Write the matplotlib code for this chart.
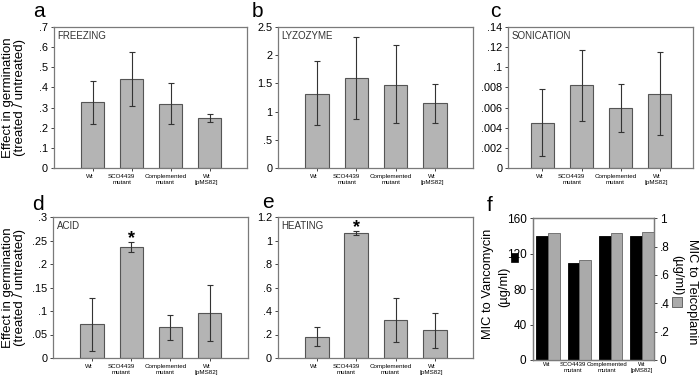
import numpy as np
import matplotlib
matplotlib.use("Agg")
import matplotlib.pyplot as plt
from matplotlib.patches import Rectangle
from matplotlib.transforms import blended_transform_factory

plt.rcParams['font.family'] = ['Liberation Sans', 'DejaVu Sans']

strains = ["Wt", "SCO4439\nmutant", "Complemented\nmutant", "Wt\n[pMS82]"]

# germination effect (bar value, lower and upper error bar ends)
freezing = [0.327, 0.441, 0.320, 0.247]
freezing_lo = [0.219, 0.308, 0.220, 0.227]
freezing_hi = [0.434, 0.575, 0.421, 0.267]

lyzozyme = [1.32, 1.59, 1.48, 1.15]
lyzozyme_lo = [0.76, 0.86, 0.79, 0.80]
lyzozyme_hi = [1.89, 2.32, 2.18, 1.49]

sonication = [0.0445, 0.082, 0.060, 0.0737]
sonication_lo = [0.0116, 0.0464, 0.036, 0.0325]
sonication_hi = [0.078, 0.1168, 0.0836, 0.1148]

acid = [0.0714, 0.236, 0.065, 0.0964]
acid_lo = [0.0143, 0.226, 0.038, 0.0364]
acid_hi = [0.127, 0.247, 0.0914, 0.156]

heating = [0.182, 1.065, 0.322, 0.236]
heating_lo = [0.105, 1.046, 0.14, 0.088]
heating_hi = [0.265, 1.085, 0.507, 0.379]

vancomycin = [140, 110, 140, 140]
teicoplanin = [0.894, 0.706, 0.894, 0.9]

W, H = 700, 383
fig = plt.figure(figsize=(7, 3.83), dpi=100)

def px_axes(l, t, r, b):
    return fig.add_axes([l / W, 1 - b / H, (r - l) / W, (b - t) / H])

frame_col = "#7a7a7a"
bar_col = "#b4b4b4"
edge_col = "#555555"
x = np.arange(4)
lab_shift = [-0.08, -0.25, -0.13, -0.08]

def style(ax):
    for s in ax.spines.values():
        s.set_color(frame_col)
        s.set_linewidth(0.9)
    ax.tick_params(axis="y", direction="out", length=2.5, width=0.7, pad=1.5,
                   labelsize=7.8, color="#444444")
    ax.tick_params(axis="x", direction="out", length=2.5, width=0.7, color="#444444",
                   labelbottom=False)

def germ_panel(ax, vals, lo, hi, ylim, ticks, ticklabels, title, xlim=(-1.0, 3.97)):
    vals = np.array(vals)
    yerr = [vals - np.array(lo), np.array(hi) - vals]
    ax.bar(x, vals, width=0.6, color=bar_col, edgecolor=edge_col, linewidth=0.8,
           yerr=yerr, error_kw=dict(ecolor="#333333", elinewidth=0.8, capsize=2, capthick=0.8))
    ax.set_xlim(*xlim)
    ax.set_ylim(*ylim)
    ax.set_yticks(ticks)
    ax.set_yticklabels(ticklabels)
    ax.set_xticks(x)
    style(ax)
    ax.text(0.018, 0.935, title, transform=ax.transAxes, fontsize=7, color="#333333",
            ha="left", va="center")
    tr = blended_transform_factory(ax.transData, ax.transAxes)
    for i, lab in enumerate(strains):
        ax.text(x[i] + lab_shift[i], -0.045, lab, transform=tr, fontsize=4.5,
                ha="center", va="top", linespacing=1.25)

ax_a = px_axes(53.5, 27, 247.5, 168)
germ_panel(ax_a, freezing, freezing_lo, freezing_hi, (0, 0.7),
           np.arange(0, 0.71, 0.1), ["0", ".1", ".2", ".3", ".4", ".5", ".6", ".7"], "FREEZING")

ax_b = px_axes(278, 27, 473, 168)
germ_panel(ax_b, lyzozyme, lyzozyme_lo, lyzozyme_hi, (0, 2.5),
           np.arange(0, 2.51, 0.5), ["0", ".5", "1", "1.5", "2", "2.5"], "LYZOZYME")

ax_c = px_axes(508, 27, 693, 168)
germ_panel(ax_c, sonication, sonication_lo, sonication_hi, (0, 0.14),
           np.arange(0, 0.141, 0.02), ["0", ".002", ".004", ".006", ".008", ".1", ".12", ".14"],
           "SONICATION", xlim=(-0.88, 3.85))

ax_d = px_axes(53, 217, 247.5, 358)
germ_panel(ax_d, acid, acid_lo, acid_hi, (0, 0.3),
           np.arange(0, 0.301, 0.05), ["0", ".05", ".1", ".15", ".2", ".25", ".3"], "ACID")
ax_d.text(1, acid_hi[1] - 0.011, "*", ha="center", va="bottom", fontsize=13, fontweight="bold")

ax_e = px_axes(277.5, 217, 473, 358)
germ_panel(ax_e, heating, heating_lo, heating_hi, (0, 1.2),
           np.arange(0, 1.21, 0.2), ["0", ".2", ".4", ".6", ".8", "1", "1.2"], "HEATING")
ax_e.text(1, heating_hi[1] - 0.05, "*", ha="center", va="bottom", fontsize=13, fontweight="bold")

# MIC panel
ax_f = px_axes(532.7, 218.3, 654.3, 360)
bw = 0.37
ax_f.bar(x - bw / 2, vancomycin, width=bw, color="black", edgecolor="black", linewidth=0.6)
ax_f.set_ylim(0, 160)
ax_f.set_yticks([0, 40, 80, 120, 160])
ax_f.set_xlim(-0.49, 3.39)
ax_f.set_xticks(x)
style(ax_f)
ax_f.tick_params(axis="x", length=0)
ax_f2 = ax_f.twinx()
ax_f2.bar(x + bw / 2, teicoplanin, width=bw, color="#aaaaaa", edgecolor="#666666", linewidth=0.6)
ax_f2.set_ylim(0, 1)
ax_f2.set_yticks([0, 0.2, 0.4, 0.6, 0.8, 1])
ax_f2.set_yticklabels(["0", ".2", ".4", ".6", ".8", "1"])
for s in ax_f2.spines.values():
    s.set_color(frame_col)
    s.set_linewidth(0.9)
ax_f.tick_params(axis="y", labelsize=8.5, pad=2)
ax_f2.tick_params(axis="y", direction="out", length=2.5, width=0.7, pad=1.5,
                  labelsize=8.5, color="#444444")
tr = blended_transform_factory(ax_f.transData, ax_f.transAxes)
f_shift = [-0.05, -0.22, -0.11, 0.0]
for i, lab in enumerate(strains):
    ax_f.text(x[i] + f_shift[i], -0.015, lab, transform=tr, fontsize=4.3,
              ha="center", va="top", linespacing=1.2)

# axis titles
for yc in [97.5, 287.5]:
    fig.text(14 / W, 1 - yc / H, "Effect in germination\n(treated / untreated)",
             rotation=90, ha="center", va="center", fontsize=9.5, linespacing=1.05)

fig.text(488 / W, 1 - 284 / H, "MIC to Vancomycin", rotation=90, ha="center", va="center", fontsize=9.3)
fig.text(504 / W, 1 - 287 / H, "(\u00b5g/ml)", rotation=90, ha="center", va="center", fontsize=9.3)
fig.add_artist(Rectangle((511 / W, 1 - 262 / H), 7 / W, 9 / H, transform=fig.transFigure,
                         facecolor="black", edgecolor="black", linewidth=0.5))
fig.text(692 / W, 1 - 292 / H, "MIC to Teicoplanin", rotation=-90, ha="center", va="center", fontsize=9.3)
fig.text(677.5 / W, 1 - 275 / H, "(\u00b5g/ml)", rotation=-90, ha="center", va="center", fontsize=9.3)
fig.add_artist(Rectangle((672 / W, 1 - 307 / H), 10 / W, 10 / H, transform=fig.transFigure,
                         facecolor="#aaaaaa", edgecolor="#555555", linewidth=0.6))

# panel letters
letters = ["a", "b", "c", "d", "e", "f"]
letter_pos = [(33, 16.7), (252, 17), (490, 17), (32, 210), (262, 208), (487, 211)]
for lt, (lx, ly) in zip(letters, letter_pos):
    fig.text(lx / W, 1 - ly / H, lt, ha="left", va="baseline", fontsize=15)

fig.savefig("out.png", dpi=100)
